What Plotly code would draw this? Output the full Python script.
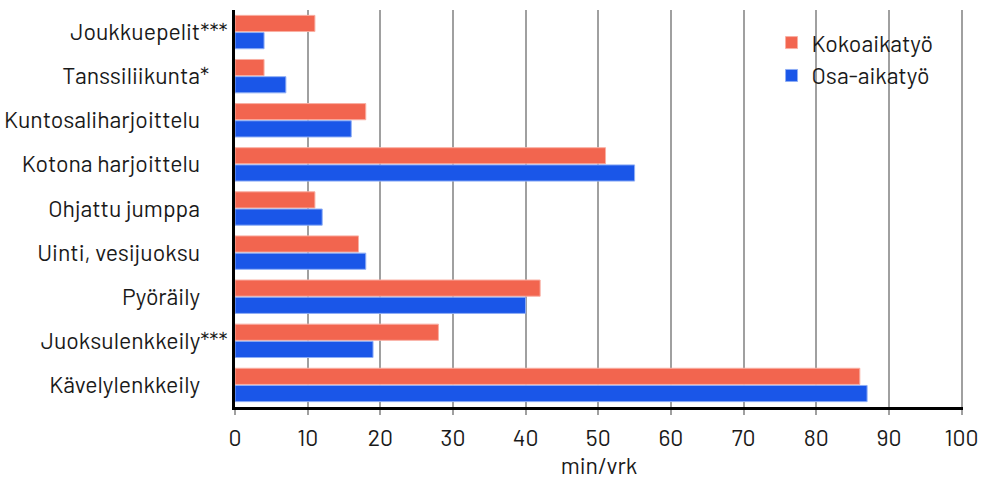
import plotly.graph_objects as go

# Sports categories (top to bottom) and minutes per day by employment type
categories = [
    "Joukkuepelit***",
    "Tanssiliikunta*",
    "Kuntosaliharjoittelu",
    "Kotona harjoittelu",
    "Ohjattu jumppa",
    "Uinti, vesijuoksu",
    "Pyöräily",
    "Juoksulenkkeily***",
    "Kävelylenkkeily",
]
kokoaikatyo = [11, 4, 18, 51, 11, 17, 42, 28, 86]
osa_aikatyo = [4, 7, 16, 55, 12, 18, 40, 19, 87]
x_ticks = [0, 10, 20, 30, 40, 50, 60, 70, 80, 90, 100]


def padded(label):
    # labels without significance stars are pushed left so the word parts line up
    stars = len(label) - len(label.rstrip("*"))
    return label + "\u00a0" * max(0, 6 - 2 * stars)


tick_text = [padded(c) for c in categories]

FONT = "Barlow, 'Roboto Condensed', Roboto, sans-serif"

fig = go.Figure()
fig.add_trace(go.Bar(
    y=categories, x=kokoaikatyo, orientation="h", name="Kokoaikatyö",
    marker=dict(color="#F2654F", line=dict(color="#F9AFA3", width=1)),
))
fig.add_trace(go.Bar(
    y=categories, x=osa_aikatyo, orientation="h", name="Osa-aikatyö",
    marker=dict(color="#1A56E8", line=dict(color="#8FAEF5", width=1)),
))

fig.update_layout(
    width=987, height=480,
    margin=dict(l=235, r=24, t=10, b=73),
    paper_bgcolor="white", plot_bgcolor="white",
    font=dict(family=FONT, size=23, color="#1a1a1a"),
    barmode="group", bargap=0.22, bargroupgap=0.06,
    showlegend=True,
    legend=dict(
        x=0.737, y=0.972, xanchor="left", yanchor="top",
        font=dict(size=23), bgcolor="rgba(255,255,255,0)",
        traceorder="normal", itemwidth=30, tracegroupgap=7,
    ),
    xaxis=dict(
        range=[0, 100.2], tickvals=x_ticks, ticktext=[str(v) for v in x_ticks],
        showgrid=True, gridcolor="#A0A0A0", gridwidth=1.5,
        showline=True, linecolor="black", linewidth=2.5,
        ticks="outside", ticklen=5, tickcolor="#A0A0A0", tickwidth=1.5,
        ticklabelstandoff=4, automargin=False,
        zeroline=False,
        title=dict(text="min/vrk", font=dict(size=23), standoff=6),
    ),
    yaxis=dict(
        autorange="reversed", tickvals=categories, ticktext=tick_text,
        showline=True, linecolor="black", linewidth=2.5,
        showgrid=False, ticks="", ticklabelstandoff=0, automargin=False,
    ),
)

fig.write_html("out.html")
